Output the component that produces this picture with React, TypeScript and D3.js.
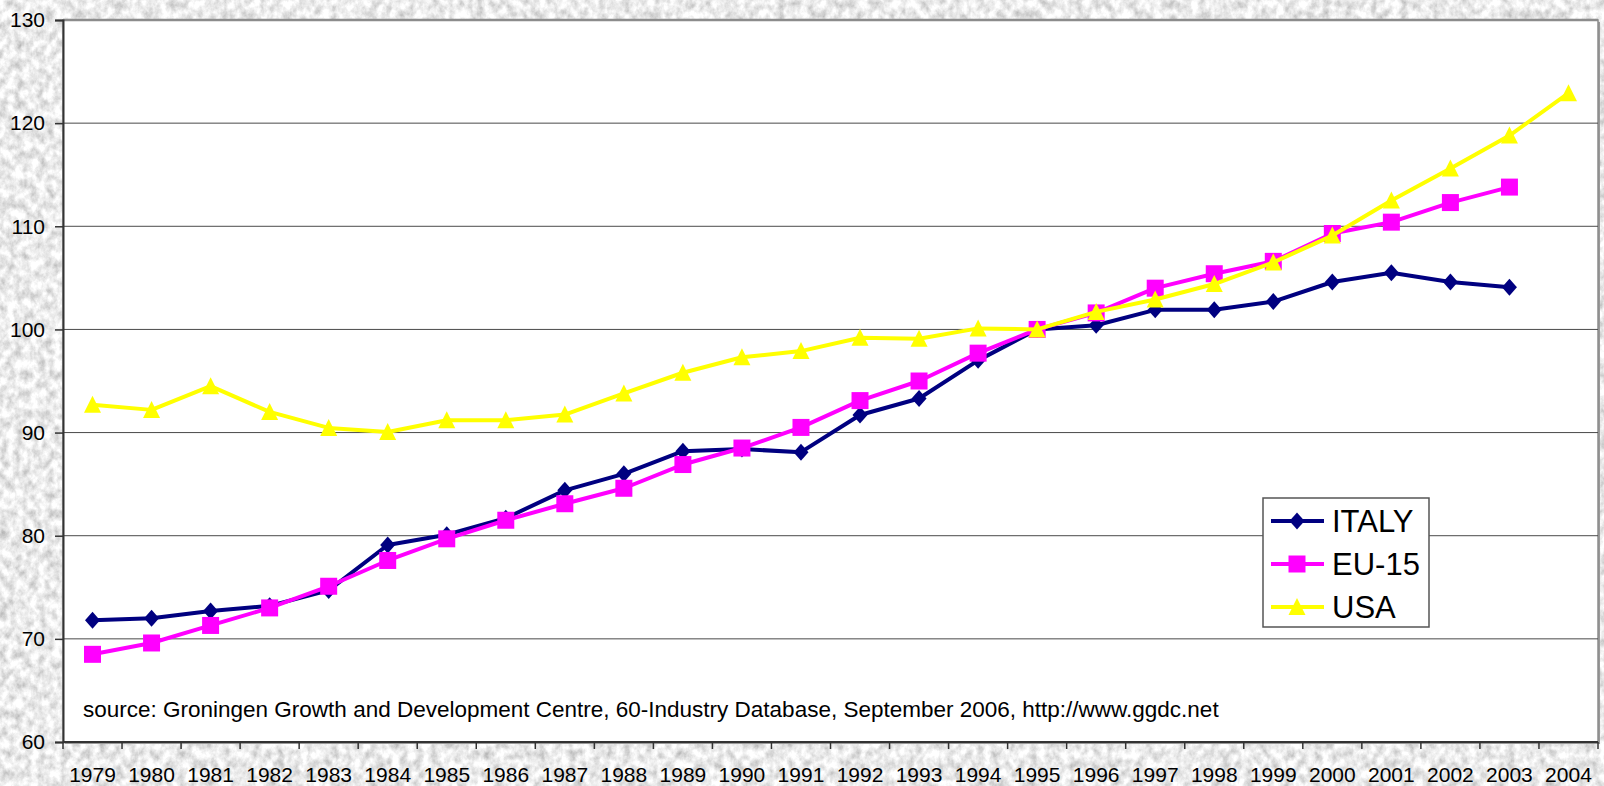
import React, { useRef, useEffect } from "react";
import * as d3 from "d3";

const years = d3.range(1979, 2005).map(String);

const italy = [71.8, 72.0, 72.7, 73.2, 74.7, 79.1, 80.1, 81.7, 84.4, 86.0, 88.2, 88.4, 88.1, 91.7, 93.3, 97.0, 100.0, 100.4, 101.9, 101.9, 102.7, 104.6, 105.5, 104.6, 104.1];
const eu15 = [68.5, 69.6, 71.3, 73.0, 75.1, 77.6, 79.7, 81.5, 83.1, 84.6, 86.9, 88.5, 90.5, 93.1, 95.0, 97.7, 100.0, 101.6, 104.0, 105.4, 106.6, 109.3, 110.4, 112.3, 113.8];
const usa = [92.7, 92.2, 94.5, 92.0, 90.45, 90.05, 91.2, 91.2, 91.75, 93.8, 95.8, 97.3, 97.9, 99.2, 99.1, 100.1, 100.0, 101.7, 102.9, 104.4, 106.5, 109.1, 112.5, 115.6, 118.8, 122.9];

const yTicks = [60, 70, 80, 90, 100, 110, 120, 130];

const sourceNote = "source: Groningen Growth and Development Centre, 60-Industry Database, September 2006, http://www.ggdc.net";

// Excel-like markers, fixed pixel sizes
const diamond = { draw(ctx: any) { ctx.moveTo(0, -8.5); ctx.lineTo(7.5, 0); ctx.lineTo(0, 8.5); ctx.lineTo(-7.5, 0); ctx.closePath(); } };
const square = { draw(ctx: any) { ctx.rect(-8.5, -8.5, 17, 17); } };
const triangle = { draw(ctx: any) { ctx.moveTo(0, -9); ctx.lineTo(8.5, 8); ctx.lineTo(-8.5, 8); ctx.closePath(); } };

const series = [
  { name: "ITALY", values: italy, color: "#000080", symbol: diamond },
  { name: "EU-15", values: eu15, color: "#FF00FF", symbol: square },
  { name: "USA", values: usa, color: "#FFFF00", symbol: triangle },
];

const FONT = "Arial, 'Liberation Sans', sans-serif";

export default function App() {
  const svgRef = useRef<SVGSVGElement>(null);

  useEffect(() => {
    if (!svgRef.current) return;
    const W = 1604, H = 786;
    const margin = { top: 20, right: 6, bottom: 44, left: 63 };
    const width = W - margin.left - margin.right;
    const height = H - margin.top - margin.bottom;

    const root = d3.select(svgRef.current);
    root.selectAll("*").remove();
    root.attr("width", W).attr("height", H);

    // grey granite backdrop
    const defs = root.append("defs");
    const filt = defs.append("filter").attr("id", "marble")
      .attr("x", 0).attr("y", 0).attr("width", "100%").attr("height", "100%");
    filt.append("feTurbulence")
      .attr("type", "fractalNoise")
      .attr("baseFrequency", "0.13 0.1")
      .attr("numOctaves", 4)
      .attr("seed", 11);
    filt.append("feColorMatrix")
      .attr("type", "matrix")
      .attr("values", "0.85 0 0 0 0.41  0.85 0 0 0 0.41  0.85 0 0 0 0.41  0 0 0 0 1");
    root.append("rect").attr("width", W).attr("height", H).attr("fill", "#d8d8d8");
    root.append("rect").attr("width", W).attr("height", H).attr("filter", "url(#marble)");

    const svg = root.append("g").attr("transform", `translate(${margin.left},${margin.top})`);

    const x = d3.scaleBand().domain(years).range([0, width]);
    const y = d3.scaleLinear().domain([60, 130]).range([height, 0]);
    const cx = (i: number) => (x(years[i]) as number) + x.bandwidth() / 2;

    // plot area + shadowed frame
    svg.append("rect").attr("x", 2).attr("y", 2).attr("width", width).attr("height", height)
      .attr("fill", "#999");
    svg.append("rect").attr("width", width).attr("height", height)
      .attr("fill", "#fff").attr("stroke", "#8c8c8c").attr("stroke-width", 1.5);

    // gridlines
    svg.append("g").selectAll("line").data(yTicks.slice(1, -1)).join("line")
      .attr("x1", 0).attr("x2", width)
      .attr("y1", d => y(d)).attr("y2", d => y(d))
      .attr("stroke", "#4a4a4a").attr("stroke-width", 1);
    svg.append("line").attr("x1", 0).attr("x2", width).attr("y1", 0).attr("y2", 0)
      .attr("stroke", "#8c8c8c").attr("stroke-width", 2.5);

    // y axis
    const yAxis = svg.append("g")
      .call(d3.axisLeft(y).tickValues(yTicks).tickSize(8).tickPadding(10));
    yAxis.select(".domain").attr("stroke", "#333").attr("stroke-width", 2);
    yAxis.selectAll(".tick line").attr("stroke", "#333").attr("stroke-width", 1.5);
    yAxis.selectAll("text")
      .attr("font-family", FONT)
      .attr("font-size", 21).attr("fill", "#000");

    // x axis: ticks between categories
    const xAxis = svg.append("g").attr("transform", `translate(0,${height})`);
    xAxis.append("line").attr("x1", 0).attr("x2", width).attr("stroke", "#333").attr("stroke-width", 2);
    xAxis.selectAll("line.tk").data(d3.range(years.length + 1)).join("line")
      .attr("class", "tk")
      .attr("x1", i => i * x.bandwidth()).attr("x2", i => i * x.bandwidth())
      .attr("y1", 0).attr("y2", 7)
      .attr("stroke", "#333").attr("stroke-width", 1.5);
    xAxis.selectAll("text").data(years).join("text")
      .attr("x", (_, i) => cx(i)).attr("y", 40)
      .attr("text-anchor", "middle")
      .attr("font-family", FONT)
      .attr("font-size", 21).attr("fill", "#000")
      .text(d => d);

    // source note
    svg.append("text")
      .attr("x", 20).attr("y", height - 25)
      .attr("font-family", FONT)
      .attr("font-size", 22.5).attr("fill", "#000")
      .text(sourceNote);

    // series
    series.forEach(s => {
      const line = d3.line<number>().x((_, i) => cx(i)).y(d => y(d));
      svg.append("path").datum(s.values)
        .attr("fill", "none").attr("stroke", s.color).attr("stroke-width", 4)
        .attr("stroke-linejoin", "round")
        .attr("d", line);
      const sym = d3.symbol().type(s.symbol as any);
      svg.append("g").selectAll("path").data(s.values).join("path")
        .attr("transform", (d, i) => `translate(${cx(i)},${y(d)})`)
        .attr("d", sym)
        .attr("fill", s.color);
    });

    // legend
    const lg = root.append("g").attr("transform", "translate(1263,498)");
    lg.append("rect").attr("width", 166).attr("height", 129)
      .attr("fill", "#fff").attr("stroke", "#555").attr("stroke-width", 1.5);
    series.forEach((s, i) => {
      const yy = 23 + i * 43;
      lg.append("line").attr("x1", 8).attr("x2", 61).attr("y1", yy).attr("y2", yy)
        .attr("stroke", s.color).attr("stroke-width", 4);
      lg.append("path")
        .attr("transform", `translate(34,${yy})`)
        .attr("d", d3.symbol().type(s.symbol as any)).attr("fill", s.color);
      lg.append("text").attr("x", 69).attr("y", yy + 11)
        .attr("font-family", FONT)
        .attr("font-size", 31).attr("fill", "#000")
        .text(s.name);
    });
  }, []);

  return (
    <div style={{ position: "fixed", left: 0, top: 0, width: 1604, height: 786, overflow: "hidden" }}>
      <svg ref={svgRef} style={{ display: "block" }}></svg>
    </div>
  );
}
